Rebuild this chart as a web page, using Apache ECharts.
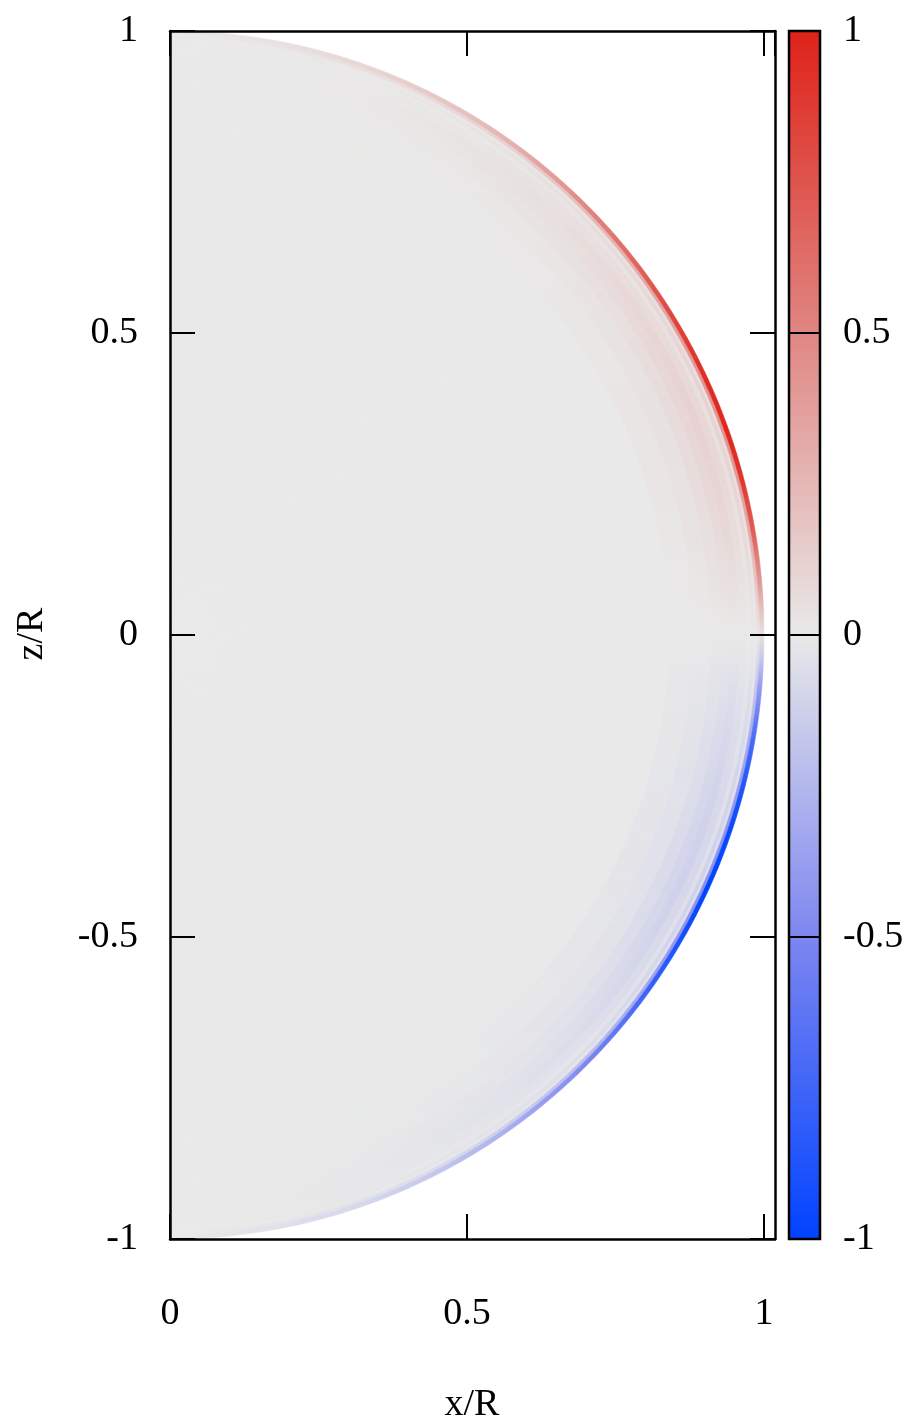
<!DOCTYPE html>
<html><head><meta charset="utf-8">
<script src="https://cdn.jsdelivr.net/npm/echarts@6/dist/echarts.min.js"></script>
<style>html,body{margin:0;padding:0;background:#fff}#c{width:913px;height:1428px}</style>
</head><body><div id="c"></div>
<script>
// ---- data ----
const xTicks = [0, 0.5, 1];
const zTicks = [-1, -0.5, 0, 0.5, 1];
const cbTicks = [-1, -0.5, 0, 0.5, 1];
// latitude (deg) of each angular cell centre
const latitudes = [-90,-85,-80,-75,-70,-65,-60,-55,-50,-45,-40,-35,-30,-25,-20,-15,-10,-5,0,
                   5,10,15,20,25,30,35,40,45,50,55,60,65,70,75,80,85,90];
// field value at the surface for each latitude
const surfaceValue = [0,-0.02,-0.04,-0.07,-0.1,-0.15,-0.22,-0.3,-0.4,-0.5,-0.65,-0.8,-0.92,-1.0,-0.97,-0.88,-0.7,-0.4,0.03,
                      0.4,0.7,0.9,0.98,0.95,0.86,0.75,0.62,0.5,0.38,0.28,0.2,0.15,0.1,0.07,0.04,0.02,0];
// radial shell edges (r/R) and relative weight of each shell
const shellEdges  = [0, 0.84, 0.88, 0.91, 0.93, 0.945, 0.96, 0.972, 0.978, 0.984, 0.988, 0.993, 1.0];
const shellWeight = [0, 0.02, 0.04, 0.07, 0.10, 0.12, 0.09, 0.05, 0.12, 0.06, 0.45, 1.0];
// colour scale
const colorValues = [-1, -0.5, 0, 0.5, 1];
const colorList = ['#0043ff', '#7d86f0', '#e9e9e9', '#e08682', '#de2218'];

// ---- build cells: [r0, r1, lat0, lat1, value, valueBelow, valueAbove] ----
const cells = [];
for (let i = 0; i < latitudes.length; i++) {
  const a0 = Math.max(-90, latitudes[i] - 2.5), a1 = Math.min(90, latitudes[i] + 2.5);
  for (let j = 0; j < shellWeight.length; j++) {
    const v = surfaceValue[i] * shellWeight[j];
    const vb = i > 0 ? surfaceValue[i - 1] * shellWeight[j] : v;
    const va = i < latitudes.length - 1 ? surfaceValue[i + 1] * shellWeight[j] : v;
    cells.push([shellEdges[j], shellEdges[j + 1], a0, a1, v, vb, va]);
  }
}

const FONT = 'Liberation Serif';
const lbl = {color: '#000', fontSize: 38, fontFamily: FONT};
const tickFmt = v => (zTicks.concat(xTicks).some(t => Math.abs(t - v) < 1e-9) ? String(v) : '');
const colorOf = v => echarts.color.lerp((Math.max(-1, Math.min(1, v)) + 1) / 2, colorList);

function renderCell(params, api) {
  const r0 = api.value(0), r1 = api.value(1), a0 = api.value(2), a1 = api.value(3);
  const v = api.value(4), vb = api.value(5), va = api.value(6);
  const n = Math.max(2, Math.ceil(a1 - a0) + 1);
  const pts = [];
  const rad = d => d * Math.PI / 180;
  for (let k = 0; k < n; k++) {
    const a = rad(a0 + (a1 - a0) * k / (n - 1));
    pts.push(api.coord([r1 * Math.cos(a), r1 * Math.sin(a)]));
  }
  for (let k = n - 1; k >= 0; k--) {
    const a = rad(a0 + (a1 - a0) * k / (n - 1));
    pts.push(api.coord([r0 * Math.cos(a), r0 * Math.sin(a)]));
  }
  const rm = (r0 + r1) / 2 || 0.01;
  const g0 = api.coord([rm * Math.cos(rad(a0)), rm * Math.sin(rad(a0))]);
  const g1 = api.coord([rm * Math.cos(rad(a1)), rm * Math.sin(rad(a1))]);
  const c = colorOf(v);
  const fill = new echarts.graphic.LinearGradient(g0[0], g0[1], g1[0], g1[1], [
    {offset: 0, color: colorOf((v + vb) / 2)},
    {offset: 0.5, color: c},
    {offset: 1, color: colorOf((v + va) / 2)}
  ], true);
  return {type: 'polygon', shape: {points: pts}, style: {fill: fill, stroke: fill, lineWidth: 0.6}};
}

function renderBar(params, api) {
  const p0 = api.coord([0, 1]), p1 = api.coord([1, -1]);
  const stops = colorValues.map((v, i) => ({offset: (1 - v) / 2, color: colorList[i]}))
                           .sort((a, b) => a.offset - b.offset);
  return {type: 'rect', shape: {x: p0[0], y: p0[1], width: p1[0] - p0[0], height: p1[1] - p0[1]},
          style: {fill: new echarts.graphic.LinearGradient(0, 0, 0, 1, stops), stroke: '#000', lineWidth: 2.5}};
}

const chart = echarts.init(document.getElementById('c'), null, {renderer: 'canvas'});
const axLine = () => ({show: true, onZero: false, lineStyle: {color: '#000', width: 2.5}});
const tickIn = len => ({show: true, inside: true, length: len, lineStyle: {color: '#000', width: 2}});
chart.setOption({
  animation: false,
  backgroundColor: '#fff',
  grid: [
    {left: 170, top: 31, width: 605, height: 1208},
    {left: 789, top: 31, width: 31, height: 1208}
  ],
  xAxis: [
    {gridIndex: 0, type: 'value', position: 'bottom', min: 0, max: 1.0185, interval: 0.5, z: 10,
     axisLine: axLine(), axisTick: tickIn(25), splitLine: {show: false},
     axisLabel: Object.assign({margin: 56, formatter: tickFmt, showMaxLabel: false}, lbl)},
    {gridIndex: 0, type: 'value', position: 'top', min: 0, max: 1.0185, interval: 0.5, z: 10,
     axisLine: axLine(), axisTick: tickIn(25), splitLine: {show: false}, axisLabel: {show: false}},
    {gridIndex: 1, type: 'value', min: 0, max: 1, show: false}
  ],
  yAxis: [
    {gridIndex: 0, type: 'value', position: 'left', min: -1, max: 1, interval: 0.5, z: 10,
     axisLine: axLine(), axisTick: tickIn(25), splitLine: {show: false},
     axisLabel: Object.assign({margin: 32, formatter: tickFmt}, lbl)},
    {gridIndex: 0, type: 'value', position: 'right', min: -1, max: 1, interval: 0.5, z: 10,
     axisLine: axLine(), axisTick: tickIn(25), splitLine: {show: false}, axisLabel: {show: false}},
    {gridIndex: 1, type: 'value', position: 'right', min: -1, max: 1, interval: 0.5, z: 10,
     axisLine: {show: false, onZero: false}, axisTick: tickIn(31), splitLine: {show: false},
     axisLabel: Object.assign({margin: 23, formatter: tickFmt}, lbl)}
  ],
  graphic: [
    {type: 'text', x: 472, y: 1405, style: {text: 'x/R', x: 0, y: 0, align: 'center', verticalAlign: 'middle',
      fill: '#000', font: '38px "' + FONT + '"'}},
    {type: 'text', x: 32, y: 634, rotation: Math.PI / 2,
     style: {text: 'z/R', x: 0, y: 0, align: 'center', verticalAlign: 'middle', fill: '#000', font: '38px "' + FONT + '"'}}
  ],
  series: [
    {type: 'custom', xAxisIndex: 0, yAxisIndex: 0, z: 2, renderItem: renderCell, data: cells,
     encode: {x: 0, y: 2}, silent: true},
    {type: 'custom', xAxisIndex: 2, yAxisIndex: 2, z: 2, renderItem: renderBar, data: [[0, 0]], silent: true}
  ]
});
</script></body></html>
